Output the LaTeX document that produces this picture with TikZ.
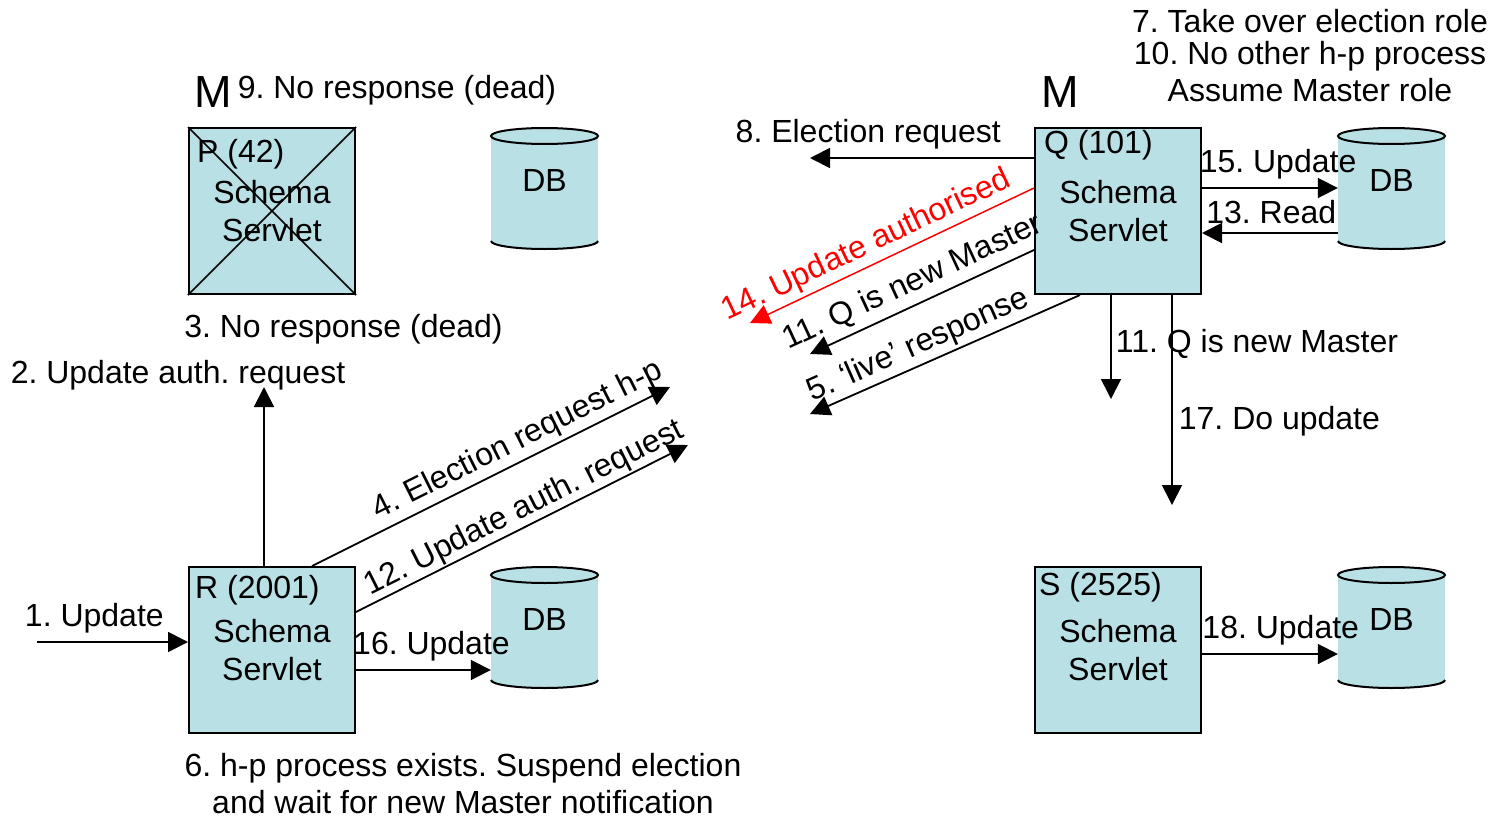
\documentclass[tikz,border=0pt]{standalone}
\usepackage{fontspec}
\setmainfont{Liberation Sans}
\usepackage{tikz}
\usetikzlibrary{arrows.meta}
\frenchspacing

\definecolor{servletblue}{RGB}{185,224,228}
\definecolor{authred}{RGB}{255,0,0}

\tikzset{
  servlet/.style={draw, line width=2pt, fill=servletblue, minimum width=166pt,
    minimum height=166pt, inner sep=0pt, align=center, font=\fontsize{32}{38}\selectfont},
  tag/.style={anchor=west, inner sep=0pt, font=\fontsize{32}{38}\selectfont},
  dbtag/.style={minimum width=107pt, inner sep=0pt, font=\fontsize{32}{38}\selectfont},
  msg/.style={line width=1.8pt, -{Triangle[length=20pt,width=20pt]}},
  lbl/.style={inner sep=8pt, font=\fontsize{32}{38}\selectfont},
  note/.style={inner sep=0pt, align=center, font=\fontsize{32}{37}\selectfont},
  bigm/.style={inner sep=0pt, font=\fontsize{45}{50}\selectfont}
}

% database drum: name, x centre, y of top rim
\newcommand{\dbstore}[3]{%
  \fill[servletblue] (#2-53.5,#3) rectangle (#2+53.5,#3+105);
  \draw[line width=2pt, fill=servletblue] (#2-53.5,#3+105)
    arc[start angle=180, end angle=0, x radius=53.5, y radius=8];
  \draw[line width=2pt, fill=servletblue] (#2,#3) ellipse [x radius=53.5, y radius=8];
  \node[dbtag] (#1) at (#2,#3+44) {DB};
}

\begin{document}
\begin{tikzpicture}[x=1pt, y=-1pt]
  \useasboundingbox (0,0) rectangle (1494,819);
  % servlets
  \node[servlet] (P) at (272,211) {Schema\\Servlet};
  \node[servlet] (Q) at (1118,211) {Schema\\Servlet};
  \node[servlet] (R) at (272,650) {Schema\\Servlet};
  \node[servlet] (S) at (1118,650) {Schema\\Servlet};
  \node[tag] (Ptag) at ([xshift=9pt,yshift=-27pt]P.north west) {P (42)};
  \node[tag] (Qtag) at ([xshift=10pt,yshift=-18pt]Q.north west) {Q (101)};
  \node[tag] (Rtag) at ([xshift=7pt,yshift=-24pt]R.north west) {R (2001)};
  \node[tag] (Stag) at ([xshift=5pt,yshift=-21pt]S.north west) {S (2525)};
  % P is dead
  \draw[line width=1.5pt] (P.north west) -- (P.south east) (P.north east) -- (P.south west);
  % masters
  \node[bigm] (Pm) at (213,92) {M};
  \node[bigm] (Qm) at (1060,92) {M};
  % databases
  \dbstore{dbP}{544.5}{136}
  \dbstore{dbQ}{1391.5}{136}
  \dbstore{dbR}{544.5}{575}
  \dbstore{dbS}{1391.5}{575}
  % notes
  \node[note] (n9) at (397,90) {9. No response (dead)};
  \node[note] (n3) at (343.5,329) {3. No response (dead)};
  \node[note] (n6) at (463,784) {6. h-p process exists. Suspend election\\and wait for new Master notification};
  \node[note, anchor=north] (n7) at (1310,9) {7. Take over election role\\[-5pt]10. No other h-p process\\Assume Master role};
  % R side
  \coordinate (in1) at (37,642);
  \draw[msg] (in1) -- (in1 -| R.west) node[lbl, above, pos=.38] (l1) {1. Update};
  \coordinate (t2) at (264,387);
  \draw[msg] (R.north -| t2) -- (t2);
  \node[note] (l2) at (178,375) {2. Update auth. request};
  \coordinate (t4) at (670,387);
  \draw[msg] ([xshift=40pt]R.north) -- (t4)
    node[lbl, sloped, above, pos=.6, inner sep=4pt] (l4) {4. Election request h-p};
  \coordinate (t12) at (688,445);
  \draw[msg] ([yshift=38pt]R.east) -- (t12)
    node[lbl, sloped, above, pos=.53, inner sep=1pt] (l12) {12. Update auth. request};
  \coordinate (r16) at ([yshift=-20pt]R.east);
  \draw[msg] (r16) -- (r16 -| dbR.west) node[lbl, above, pos=.56] (l16) {16. Update};
  % Q side
  \coordinate (t8) at (810,158);
  \draw[msg] ([yshift=53pt]Q.west) -- (t8) node[lbl, above, pos=.74] (l8) {8. Election request};
  \coordinate (t14) at (750,323);
  \draw[msg, color=authred, line width=1.5pt] ([yshift=23pt]Q.west) -- (t14)
    node[lbl, sloped, above, pos=.56, inner sep=4pt] (l14) {14. Update authorised};
  \coordinate (t11) at (810,354);
  \draw[msg] ([yshift=-39pt]Q.west) -- (t11)
    node[lbl, sloped, above, pos=.5, inner sep=6pt] (l11) {11. Q is new Master};
  \coordinate (t5) at (810,414);
  \draw[msg] ([xshift=-38pt]Q.south) -- (t5)
    node[lbl, sloped, above, pos=.57, inner sep=3pt] (l5) {5. ‘live’ response};
  \coordinate (t11v) at (1111,399);
  \draw[msg] (Q.south -| t11v) -- (t11v) node[lbl, right=-4pt, pos=.47] (l11v) {11. Q is new Master};
  \coordinate (t17) at (1172,505);
  \draw[msg] (Q.south -| t17) -- (t17) node[lbl, right=-2pt, pos=.6] (l17) {17. Do update};
  \coordinate (q15) at ([yshift=23pt]Q.east);
  \draw[msg] (q15) -- (q15 -| dbQ.west) node[lbl, above, pos=.56] (l15) {15. Update};
  \coordinate (q13) at ([yshift=-22pt]Q.east);
  \draw[msg] (q13 -| dbQ.west) -- (q13) node[lbl, above, pos=.49] (l13) {13. Read};
  % S side
  \coordinate (s18) at ([yshift=-4pt]S.east);
  \draw[msg] (s18) -- (s18 -| dbS.west) node[lbl, above, pos=.58] (l18) {18. Update};
\end{tikzpicture}
\end{document}
